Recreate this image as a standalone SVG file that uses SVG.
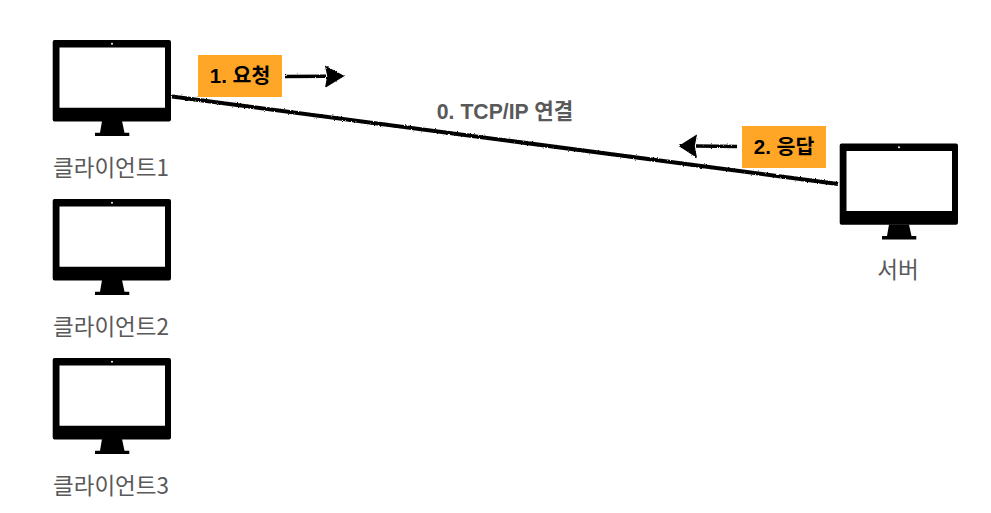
<svg xmlns="http://www.w3.org/2000/svg" width="991" height="513" viewBox="0 0 991 513">
<style>
.lbl{font-family:"Noto Sans CJK KR","Liberation Sans",sans-serif;font-size:22.5px;fill:#595959;text-anchor:middle}
.tag{font-family:"Liberation Sans","Noto Sans CJK KR",sans-serif;font-size:20.500px;font-weight:700;fill:#000;text-anchor:middle}
.box{fill:#ffa626}
.wire{fill:none;stroke:#000;stroke-width:4;filter:url(#rough)}
.thin{fill:none;stroke:#000;stroke-width:3.4;filter:url(#rough)}
.head{fill:#000;stroke:#000;stroke-width:1.5;filter:url(#rough)}
</style>
<defs>
<filter id="rough" filterUnits="userSpaceOnUse" x="0" y="0" width="991" height="513">
<feTurbulence type="fractalNoise" baseFrequency="0.7" numOctaves="2" seed="4"/>
<feDisplacementMap in="SourceGraphic" scale="2.4" xChannelSelector="R" yChannelSelector="G"/>
</filter>
<g id="monitor">
<path fill-rule="evenodd" d="M54.500 40H169Q171 40 171 42V119.400Q171 121.400 169 121.400H54.500Q52.700 121.400 52.700 119.400V42Q52.700 40 54.500 40ZM59.500 47.500V107.700H165V47.500Z"/>
<path d="M102 121H122L124.500 132.700H129.300V136H95V132.700H100Z"/>
<circle cx="112" cy="43.800" r="1" fill="#fff"/>
</g>
</defs>
<rect width="991" height="513" fill="#fff"/>
<g id="connectors">
<path class="wire" d="M172 96.500L838 184"/>
<path class="thin" d="M285 76.500L326 76.200"/>
<path class="head" d="M326 67L343 76L326 86.500L328 76Z"/>
<path class="thin" d="M737 146.500L696 146"/>
<path class="head" d="M696 136L680 146L696 156.500L694 146Z"/>
</g>
<g id="client1"><use href="#monitor"/><text class="lbl" x="111" y="176">클라이언트1</text></g>
<g id="client2"><use href="#monitor" y="159"/><text class="lbl" x="111" y="335">클라이언트2</text></g>
<g id="client3"><use href="#monitor" y="318"/><text class="lbl" x="111" y="494">클라이언트3</text></g>
<g id="server"><use href="#monitor" x="787" y="103.400"/><text class="lbl" x="898" y="278">서버</text></g>
<g id="tag-request"><rect class="box" x="198" y="55" width="84" height="42"/><text class="tag" x="240" y="83">1. 요청</text></g>
<g id="tag-response"><rect class="box" x="742" y="126" width="84" height="42"/><text class="tag" x="784" y="154">2. 응답</text></g>
<g id="label-tcp"><text class="tag" x="505" y="118.500" style="fill:#595959;font-size:21.200px">0. TCP/IP 연결</text></g>
</svg>
